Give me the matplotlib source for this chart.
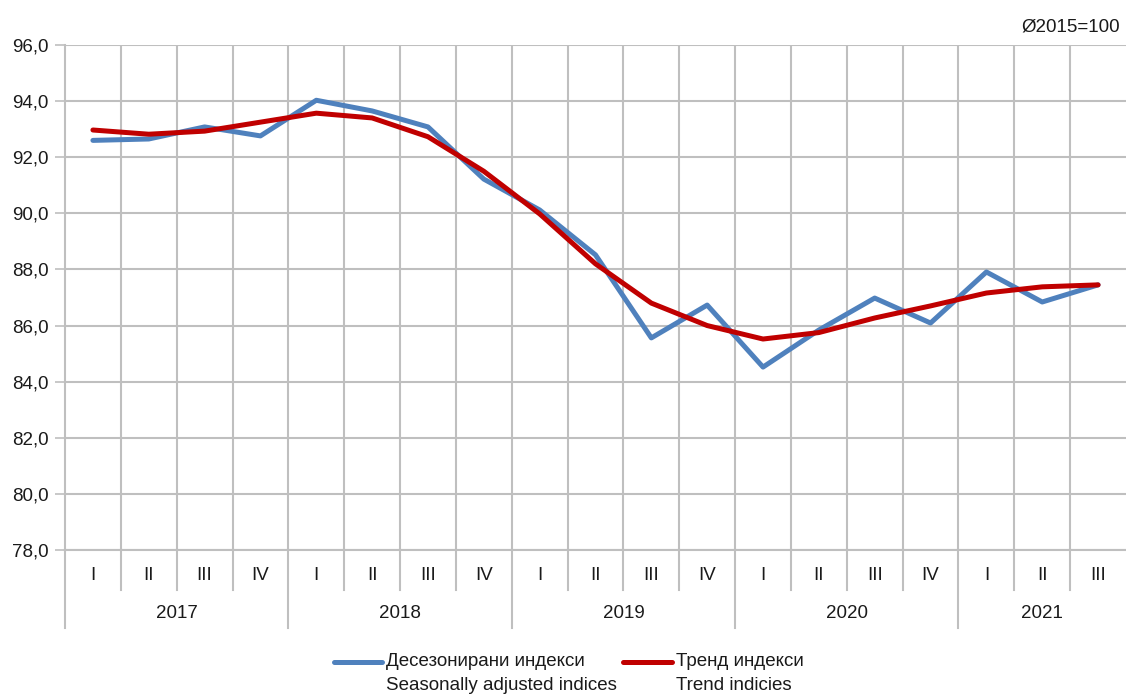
import matplotlib
matplotlib.use('Agg')
import matplotlib.pyplot as plt
from matplotlib.lines import Line2D
import matplotlib.transforms as mtransforms

plt.rcParams['font.family'] = ['Liberation Sans Narrow', 'Liberation Sans', 'DejaVu Sans']

# ---- data ----
years = ['2017', '2018', '2019', '2020', '2021']
quarters = ['I', 'II', 'III', 'IV',
            'I', 'II', 'III', 'IV',
            'I', 'II', 'III', 'IV',
            'I', 'II', 'III', 'IV',
            'I', 'II', 'III']
seasonal = [92.6, 92.65, 93.08, 92.76,
            94.03, 93.65, 93.08, 91.22,
            90.12, 88.52, 85.56, 86.73,
            84.52, 85.84, 86.98, 86.09,
            87.91, 86.84, 87.45]
trend = [92.97, 92.82, 92.93, 93.25,
         93.57, 93.40, 92.73, 91.50,
         89.98, 88.20, 86.80, 86.00,
         85.52, 85.75, 86.27, 86.70,
         87.16, 87.38, 87.45]

blue = '#4F81BD'
red = '#C00000'
grid_c = '#BFBFBF'
txt_c = '#1a1a1a'
fs = 13.5

fig = plt.figure(figsize=(11.26, 6.94), dpi=100)
ax = fig.add_axes([65 / 1126, 1 - 550 / 694, 1 - 65 / 1126, (550 - 45) / 694])

x = [i + 0.5 for i in range(len(quarters))]
ax.plot(x, seasonal, color=blue, linewidth=3.6, solid_capstyle='round', zorder=3)
ax.plot(x, trend, color=red, linewidth=3.6, solid_capstyle='round', zorder=4)

ax.set_xlim(0, len(quarters))
ax.set_ylim(78, 96)
ax.set_yticks([78 + 2 * k for k in range(10)])
ax.set_yticklabels([f'{78 + 2 * k},0' for k in range(10)], fontsize=fs, color=txt_c)
ax.tick_params(axis='y', length=7, width=1.2, color=grid_c, pad=5)
ax.set_xticks([])

for s in ['top', 'right']:
    ax.spines[s].set_visible(False)
for s in ['left', 'bottom']:
    ax.spines[s].set_color(grid_c)
    ax.spines[s].set_linewidth(1.5)

# grid: horizontal at ticks, vertical at quarter boundaries
for yv in ax.get_yticks():
    ax.axhline(yv, color=grid_c, linewidth=1.5, zorder=1)
for i in range(1, len(quarters)):
    ax.axvline(i, color=grid_c, linewidth=1.5, zorder=1)

# category axis below plot
trans = mtransforms.blended_transform_factory(ax.transData, ax.transAxes)
h = (550 - 45)
q_bottom = -(590 - 550) / h
y_bottom = -(628 - 550) / h
for i in range(len(quarters)):
    year_edge = (i % 4 == 0)
    ax.plot([i, i], [0, y_bottom if year_edge else q_bottom], transform=trans,
            color=grid_c, linewidth=1.5, clip_on=False)
for i, q in enumerate(quarters):
    ax.text(i + 0.5, -(576 - 550) / h, q, transform=trans, ha='center', va='center',
            fontsize=fs, color=txt_c)
for k, yr in enumerate(years):
    start = 4 * k
    end = min(4 * k + 4, len(quarters))
    ax.text((start + end) / 2, -(614 - 550) / h, yr, transform=trans, ha='center',
            va='center', fontsize=fs, color=txt_c)

fig.text(1120 / 1126, 1 - 27 / 694, 'Ø2015=100', ha='right', va='center', fontsize=fs,
         color=txt_c)

# legend
def legend_item(x0, x1, color, line1, line2):
    yl = 1 - 662 / 694
    fig.add_artist(Line2D([x0 / 1126, x1 / 1126], [yl, yl], color=color, linewidth=3.6,
                          solid_capstyle='round'))
    fig.text((x1 + 4) / 1126, yl, line1, ha='left', va='center', fontsize=fs, color=txt_c)
    fig.text((x1 + 4) / 1126, 1 - 685 / 694, line2, ha='left', va='center', fontsize=fs,
             color=txt_c)

legend_item(334, 382, blue, 'Десезонирани индекси', 'Seasonally adjusted indices')
legend_item(623, 672, red, 'Тренд индекси', 'Trend indicies')

fig.savefig('out.png', dpi=100)
